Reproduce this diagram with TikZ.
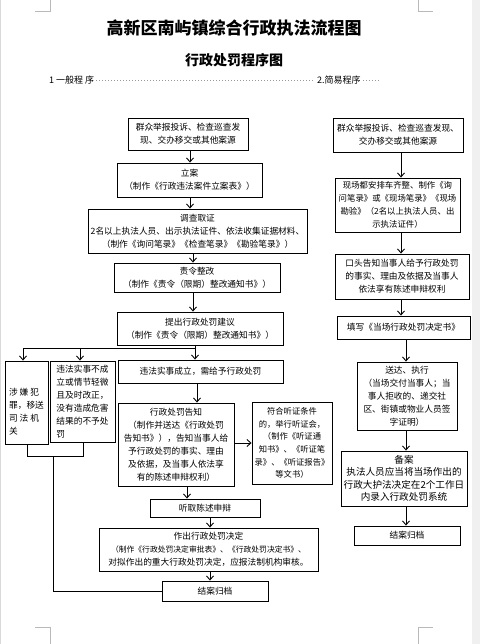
\documentclass[tikz,border=0pt]{standalone}
\usepackage{fontspec}
\setmainfont{Noto Sans CJK SC}
\usetikzlibrary{arrows.meta}
\begin{document}
\begin{tikzpicture}[x=1pt,y=-1pt,
  box/.style 2 args={draw, line width=0.9pt, align=center, inner sep=1pt,
    font=\fontsize{8.7}{13}\selectfont, minimum width=#1pt, minimum height=#2pt},
  arr/.style={-{Straight Barb[length=4pt,width=7pt]}, line width=0.9pt},
  ln/.style={line width=0.9pt},
  cornermark/.style={draw=gray!55, line width=0.8pt},
  lead/.style={draw=gray!80, line width=0.7pt, dash pattern=on 0.8pt off 2.2pt}]
\useasboundingbox (0,0) rectangle (480,644);
\fill[white] (0,0) rectangle (480,644);
\fill[gray!12] (472,0) rectangle (480,644);
\draw[gray!30, line width=1pt] (0.5,0) -- (0.5,644);
% page corner marks
\draw[cornermark] (35,11) -- (50,11) -- (50,0);
\draw[cornermark] (418,0) -- (418,11) -- (433,11);
\draw[cornermark] (35,627) -- (50,627) -- (50,644);
\draw[cornermark] (418,644) -- (418,627) -- (433,627);

% titles
\node[font=\bfseries\fontsize{17}{17}\selectfont] (title) at (234,28.5) {高新区南屿镇综合行政执法流程图};
\node[font=\bfseries\fontsize{14}{14}\selectfont] (sub) at (234,60) {行政处罚程序图};
\node[anchor=west, inner sep=0pt, font=\fontsize{9}{9}\selectfont] (h1) at (49,80) {1 一般程 序};
\node[anchor=west, inner sep=0pt, font=\fontsize{9}{9}\selectfont] (h2) at (317,80) {2.简易程序};
\coordinate (hend) at (379,80);
\draw[lead] ([xshift=2pt]h1.east) -- ([xshift=-2pt]h2.west);
\draw[lead] ([xshift=2pt]h2.east) -- (hend);

% general procedure (left)
\node[box={120}{32}] (A1) at (188,134) {群众举报投诉、检查巡查发\\现、交办移交或其他案源};
\node[box={145}{34}] (A2) at (189.5,180) {立案\\（制作《行政违法案件立案表》）};
\node[box={219}{44}] (A3) at (197.5,231) {调查取证\\2名以上执法人员、出示执法证件、依法收集证据材料、\\（制作《询问笔录》《检查笔录》《勘验笔录》）};
\node[box={166}{29}] (A4) at (197,277.5) {责令整改\\（制作《责令（限期）整改通知书》）};
\node[box={166}{33}] (A5) at (200,328.5) {提出行政处罚建议\\（制作《责令（限期）整改通知书》）};
\node[box={43}{83}, align=left] (L1) at (26.5,402.5) {\mbox{}\\\mbox{}\\涉 嫌 犯\\罪，移送\\司 法 机\\关};
\node[box={65}{81}, align=left] (L2) at (82.5,401.5) {违法实事不成\\立或情节轻微\\且及时改正，\\没有造成危害\\结果的不予处\\罚};
\node[box={165}{23}] (M1) at (200.5,371.5) {违法实事成立，需给予行政处罚};
\node[box={116}{83}] (M2) at (176,444.5) {行政处罚告知\\（制作并送达《行政处罚\\告知书》），告知当事人给\\予行政处罚的事实、理由\\及依据，及当事人依法享\\有的陈述申辩权利）};
\node[box={80}{82}, font=\fontsize{8.3}{12.7}\selectfont] (M3) at (292,443) {符合听证条件\\的，举行听证会，\\（制作《听证通\\知书》、《听证笔\\录》、《听证报告》\\等文书）};
\node[box={110}{18}] (M4) at (205,508) {听取陈述申辩};
\node[box={219}{43}] (M5) at (208.5,549.5) {作出行政处罚决定\\{\fontsize{7.8}{13}\selectfont（制作《行政处罚决定审批表》、《行政处罚决定书》、}\\对拟作出的重大行政处罚决定，应报法制机构审核。};
\node[box={106}{20}] (F) at (215,591) {结案归档};

% simple procedure (right)
\node[box={130}{34}] (R1) at (398,135) {群众举报投诉、检查巡查发现、\\交办移交或其他案源};
\node[box={125}{54}, font=\fontsize{8.4}{13}\selectfont] (R2) at (397.5,205) {现场都安排车齐整、制作《询\\问笔录》或《现场笔录》《现场\\勘验》（2名以上执法人员、出\\示执法证件）};
\node[box={134}{45}] (R3) at (402,276.5) {口头告知当事人给予行政处罚\\的事实、理由及依据及当事人\\依法享有陈述申辩权利};
\node[box={133}{23}] (R4) at (403.5,327.5) {填写《当场行政处罚决定书》};
\node[box={100}{68}] (R5) at (407,396) {送达、执行\\（当场交付当事人；当\\事人拒收的、递交社\\区、街镇或物业人员签\\字证明）};
\node[box={126}{55}, font=\fontsize{9.6}{12.5}\selectfont] (R6) at (404,478.5) {备案\\执法人员应当将当场作出的\\行政大护法决定在2个工作日\\内录入行政处罚系统};
\node[box={106}{19}] (R7) at (407,535.5) {结案归档};

% guide x-positions for the connectors
\coordinate (g190) at (190,0);
\coordinate (g193) at (193,0);
\coordinate (g195) at (195,0);
\coordinate (g197) at (197,0);
\coordinate (g187) at (187,0);
\coordinate (g210) at (210,0);
\coordinate (g401) at (401,0);
\coordinate (g406) at (406,0);
\coordinate (g23) at (23,0);
\coordinate (g80) at (80,0);
\coordinate (jB) at (195,348);
\coordinate (jL) at (27,456);
\coordinate (jR) at (83,456);
\coordinate (jM) at (53,456);

% left connectors
\draw[arr] (g190 |- A1.south) -- (g190 |- A2.north);
\draw[arr] (g190 |- A2.south) -- (g190 |- A3.north);
\draw[arr] (g193 |- A3.south) -- (g193 |- A4.north);
\draw[arr] (g193 |- A4.south) -- (g193 |- A5.north);
\draw[ln] (g195 |- A5.south) -- (jB);
\draw[arr] (jB) -- (g195 |- M1.north);
\draw[ln] (jB) -- (g23 |- jB);
\draw[arr] (g23 |- jB) -- (g23 |- L1.north);
\draw[arr] (g80 |- jB) -- (g80 |- L2.north);
\draw[arr] (g197 |- M1.south) -- (g197 |- M2.north);
\draw[arr] (M2.east |- M3.west) -- (M3.west);
\draw[arr] (g187 |- M2.south) -- (g187 |- M4.north);
\draw[arr] (g210 |- M4.south) -- (g210 |- M5.north);
\draw[arr] (g210 |- M5.south) -- (g210 |- F.north);
\draw[ln] (jL |- L1.south) -- (jL) -- (jR) -- (jR |- L2.south);
\draw[ln] (jM) -- (jM |- F.west) -- (F.west);

% right connectors
\draw[arr] (g401 |- R1.south) -- (g401 |- R2.north);
\draw[arr] (g401 |- R2.south) -- (g401 |- R3.north);
\draw[arr] (g401 |- R3.south) -- (g401 |- R4.north);
\draw[arr] (g406 |- R4.south) -- (g406 |- R5.north);
\draw[arr] (g406 |- R5.south) -- (g406 |- R6.north);
\draw[arr] (g406 |- R6.south) -- (g406 |- R7.north);
\end{tikzpicture}
\end{document}
